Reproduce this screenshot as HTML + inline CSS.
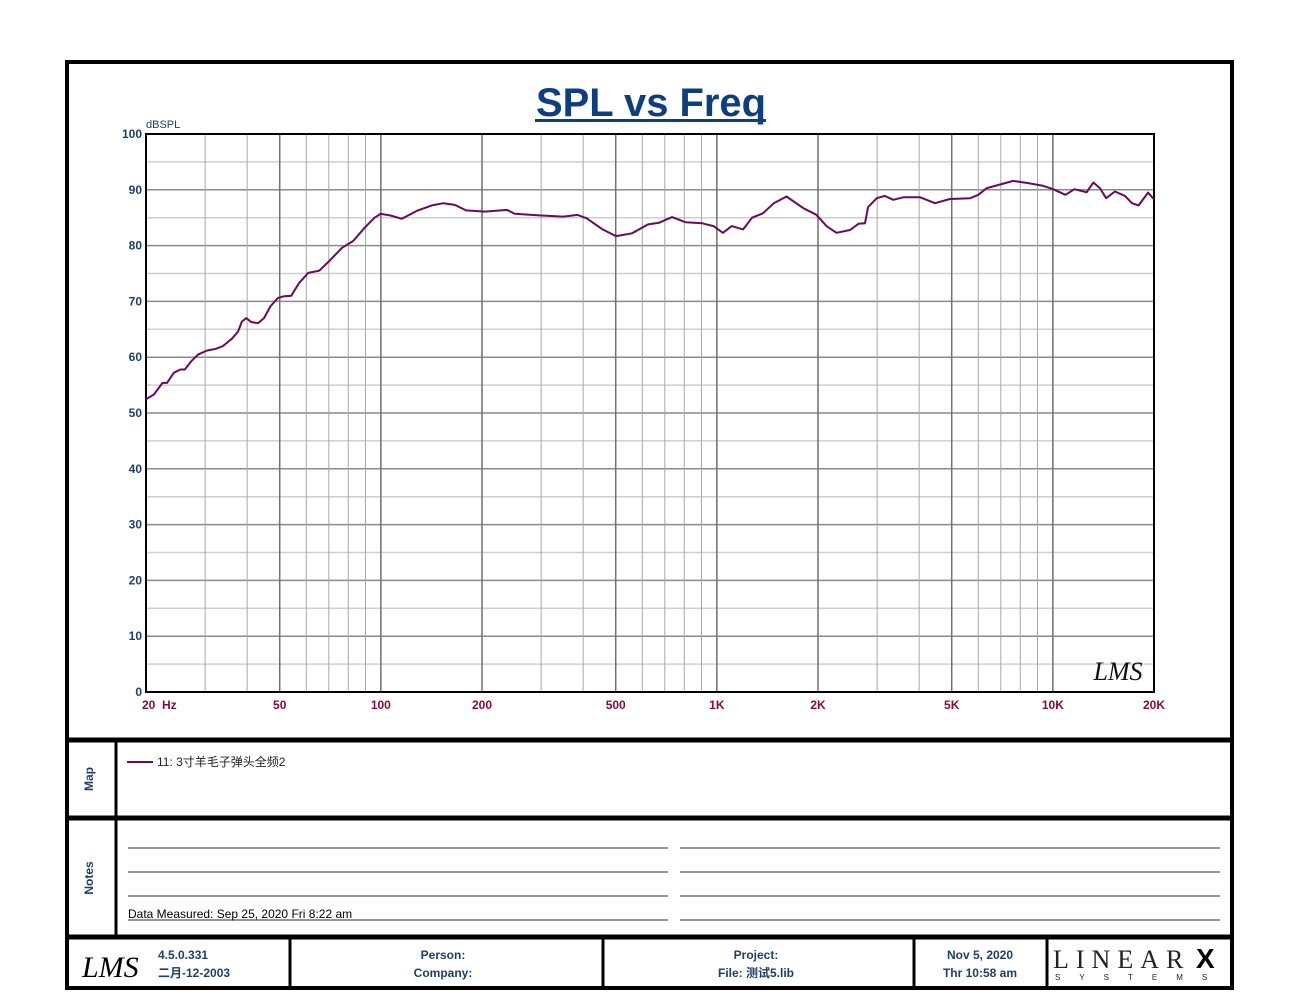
<!DOCTYPE html>
<html><head><meta charset="utf-8"><style>
body{margin:0;background:#fff;width:1300px;height:1005px;overflow:hidden;font-family:"Liberation Sans","Noto Sans CJK SC",sans-serif}
svg{display:block}
</style></head><body>
<svg width="1300" height="1005" xmlns="http://www.w3.org/2000/svg">
<g id="frame">
<rect x="67" y="62" width="1165" height="926" fill="none" stroke="#000" stroke-width="4"/>
<line x1="67" y1="740" x2="1232" y2="740" stroke="#000" stroke-width="5"/>
<line x1="67" y1="818" x2="1232" y2="818" stroke="#000" stroke-width="5"/>
<line x1="67" y1="937" x2="1232" y2="937" stroke="#000" stroke-width="5"/>
<line x1="116" y1="740" x2="116" y2="937" stroke="#000" stroke-width="3"/>
<line x1="290" y1="937" x2="290" y2="988" stroke="#000" stroke-width="3"/>
<line x1="603" y1="937" x2="603" y2="988" stroke="#000" stroke-width="3"/>
<line x1="914" y1="937" x2="914" y2="988" stroke="#000" stroke-width="3"/>
<line x1="1047" y1="937" x2="1047" y2="988" stroke="#000" stroke-width="3"/>
</g>
<text x="536" y="116" textLength="230" lengthAdjust="spacingAndGlyphs" font-size="40" font-weight="bold" fill="#0d3f7e">SPL vs Freq</text>
<rect x="535" y="119" width="231" height="3" fill="#0d3f7e"/>
<text x="146" y="128" font-size="11" fill="#1f3f6a">dBSPL</text>
<g id="grid"></g>
<g id="ticks"></g>
<rect x="146" y="134" width="1008" height="558" fill="none" stroke="#000" stroke-width="2"/>
<path id="curve" fill="none" stroke="#6a0a5a" stroke-width="2" stroke-linejoin="round"/>
<text x="1118" y="680" text-anchor="middle" font-size="26" font-style="italic" font-family="Liberation Serif,serif" fill="#111">LMS</text>
<g>
<text x="93" y="779" font-size="12" font-weight="bold" fill="#1f3f6a" transform="rotate(-90 93 779)" text-anchor="middle">Map</text>
<line x1="127" y1="762" x2="153" y2="762" stroke="#6a0a5a" stroke-width="2"/>
<text x="157" y="766" font-size="12" fill="#222">11: 3寸羊毛子弹头全频2</text>
</g>
<g>
<text x="93" y="878" font-size="12" font-weight="bold" fill="#1f3f6a" transform="rotate(-90 93 878)" text-anchor="middle">Notes</text>
<g stroke="#555" stroke-width="1.3">
<line x1="128" y1="848" x2="668" y2="848"/><line x1="128" y1="872" x2="668" y2="872"/><line x1="128" y1="896" x2="668" y2="896"/><line x1="128" y1="920" x2="668" y2="920"/>
<line x1="680" y1="848" x2="1220" y2="848"/><line x1="680" y1="872" x2="1220" y2="872"/><line x1="680" y1="896" x2="1220" y2="896"/><line x1="680" y1="920" x2="1220" y2="920"/>
</g>
<text x="128" y="918" font-size="12" fill="#000">Data Measured: Sep 25, 2020  Fri  8:22 am</text>
</g>
<g font-size="12" font-weight="bold" fill="#1f3f6a">
<text x="82" y="977" font-size="30" font-style="italic" font-family="Liberation Serif,serif" fill="#000" font-weight="normal">LMS</text>
<text x="158" y="959">4.5.0.331</text>
<text x="158" y="977">二月-12-2003</text>
<text x="443" y="959" text-anchor="middle">Person:</text>
<text x="443" y="977" text-anchor="middle">Company:</text>
<text x="756" y="959" text-anchor="middle">Project:</text>
<text x="756" y="977" text-anchor="middle">File: 测试5.lib</text>
<text x="980" y="959" text-anchor="middle">Nov  5, 2020</text>
<text x="980" y="977" text-anchor="middle">Thr 10:58 am</text>
<text x="1053" y="968" font-size="26" font-family="Liberation Serif,serif" font-weight="normal" fill="#222" letter-spacing="7">LINEAR</text>
<text x="1196" y="968" font-size="28" font-weight="bold" fill="#000">X</text>
<text x="1055" y="980" font-size="8" font-weight="normal" fill="#222" letter-spacing="19">SYSTEMS</text>
</g>
</svg>
<script>
const freqs=[20,21.1,22.4,23.1,24.2,25.3,26.1,27.3,28.6,30.4,32.3,33.9,36.0,37.6,38.6,39.8,41.1,43.1,44.9,46.9,49.3,51.2,54.1,57.1,60.8,65.6,70.9,76.6,82.6,89.5,95.8,99.8,106.8,115.4,128.8,141.9,153.5,166,179.4,203.6,237.7,250,300,349,385,410,457,501,559,624,673,736,806,905,977,1042,1107,1197,1273,1373,1477,1612,1810,1980,2120,2270,2490,2640,2760,2820,2990,3160,3350,3590,4030,4460,4940,5670,6000,6360,6730,7620,8450,9370,10020,10900,11600,12600,13200,13800,14400,15300,16400,17200,18000,19200,20000];
const spl=[52.5,53.3,55.4,55.4,57.2,57.8,57.8,59.3,60.5,61.2,61.5,62,63.3,64.6,66.4,67.0,66.3,66.1,67,69.1,70.6,70.9,71,73.3,75.1,75.5,77.5,79.6,80.8,83.2,85,85.7,85.4,84.8,86.3,87.2,87.6,87.3,86.3,86.1,86.4,85.7,85.4,85.2,85.5,84.9,82.9,81.7,82.2,83.8,84.1,85.1,84.2,84,83.5,82.3,83.5,82.9,85,85.8,87.6,88.8,86.7,85.5,83.5,82.3,82.8,83.9,84.0,86.9,88.5,88.9,88.2,88.65,88.65,87.6,88.35,88.5,89.1,90.3,90.7,91.6,91.2,90.7,90.1,89.1,90.1,89.55,91.3,90.3,88.5,89.7,88.9,87.6,87.2,89.5,88.3];
const yTicks=[0,10,20,30,40,50,60,70,80,90,100];
const xTickVals=[20,50,100,200,500,1000,2000,5000,10000,20000];
const xTickLabels=["20  Hz","50","100","200","500","1K","2K","5K","10K","20K"];
const X0=146,X1=1154,Y0=692,Y1=134;
const xs=f=>X0+(X1-X0)*Math.log10(f/20)/3;
const ys=d=>Y0-(Y0-Y1)*d/100;
const NS="http://www.w3.org/2000/svg";
const grid=document.getElementById('grid'),ticks=document.getElementById('ticks');
function ln(x1,y1,x2,y2,c,w,n){const l=document.createElementNS(NS,'line');l.setAttribute('x1',x1);l.setAttribute('y1',y1);l.setAttribute('x2',x2);l.setAttribute('y2',y2);l.setAttribute('stroke',c);l.setAttribute('stroke-width',w);


grid.appendChild(l);}
for(let d=5;d<100;d+=5){ln(X0,ys(d),X1,ys(d),d%10?'#cfcfcf':'#8a8a8a',1.5,'h-gridline');}
for(const dec of [10,100,1000,10000]){for(let m=1;m<10;m++){const f=dec*m;if(f<=20||f>=20000)continue;const major=xTickVals.includes(f);ln(xs(f),Y1,xs(f),Y0,major?'#707070':'#a8a8a8',major?1.5:1,'v-gridline');}}
yTicks.forEach(d=>{const t=document.createElementNS(NS,'text');t.setAttribute('x',142);t.setAttribute('y',ys(d)+4);t.setAttribute('text-anchor','end');t.setAttribute('font-size','12');t.setAttribute('font-weight','bold');t.setAttribute('fill','#1f3f6a');t.textContent=d;


ticks.appendChild(t);});
xTickVals.forEach((f,i)=>{const t=document.createElementNS(NS,'text');const x=xs(f);t.setAttribute('x',i===0?x-4:x);t.setAttribute('y',709);t.setAttribute('text-anchor',i===0?'start':'middle');t.setAttribute('font-size','12');t.setAttribute('font-weight','bold');t.setAttribute('fill','#8b0a3a');t.style.whiteSpace='pre';t.textContent=xTickLabels[i];


ticks.appendChild(t);});
document.getElementById('curve').setAttribute('d',freqs.map((f,i)=>(i?'L':'M')+xs(f).toFixed(1)+','+ys(spl[i]).toFixed(1)).join(''));
</script>
</body></html>
